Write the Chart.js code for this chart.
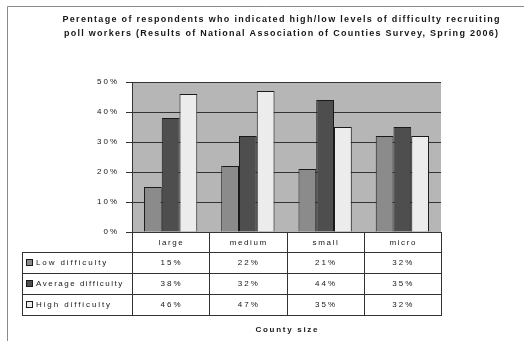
<!DOCTYPE html>
<html>
<head>
<meta charset="utf-8">
<script src="https://cdn.jsdelivr.net/npm/chart.js@4/dist/chart.umd.min.js"></script>
<style>
  html, body { margin: 0; padding: 0; background: #fff; }
  canvas { display: block; }
</style>
</head>
<body>
<canvas id="chart" width="524" height="341"></canvas>
<script>
// Survey results: share of respondents reporting each difficulty level, by county size
const titleLines = [
  'Perentage of respondents who indicated high/low levels of difficulty recruiting',
  'poll workers (Results of National Association of Counties Survey, Spring 2006)'
];
const categories = ['large', 'medium', 'small', 'micro'];
const seriesNames = ['Low difficulty', 'Average difficulty', 'High difficulty'];
const lowDifficulty = [15, 22, 21, 32];
const averageDifficulty = [38, 32, 44, 35];
const highDifficulty = [46, 47, 35, 32];
const yTicks = [0, 10, 20, 30, 40, 50];
const xAxisTitle = 'County size';

const FONT = '"Liberation Sans", Arial, Helvetica, sans-serif';
const TEXT = '#161616';
const LINE = '#333333';
const seriesColors = ['#8b8b8b', '#4e4e4e', '#ececec'];
const seriesData = [lowDifficulty, averageDifficulty, highDifficulty];

// Draw text stretched with letter spacing so it spans a given width, centred on cx
function drawFitted(ctx, text, cx, y, width) {
  ctx.letterSpacing = '0px';
  const w = ctx.measureText(text).width;
  const sp = (width - w) / (text.length - 1);
  ctx.letterSpacing = sp + 'px';
  ctx.textAlign = 'left';
  ctx.fillText(text, cx - width / 2, y);
  ctx.letterSpacing = '0px';
}

// Draw text with fixed letter spacing, aligned on x
function drawSpaced(ctx, text, x, y, sp, align) {
  ctx.letterSpacing = sp + 'px';
  ctx.textAlign = 'left';
  const w = ctx.measureText(text).width - sp;
  let x0 = x;
  if (align === 'center') x0 = x - w / 2;
  else if (align === 'right') x0 = x - w;
  ctx.fillText(text, x0, y);
  ctx.letterSpacing = '0px';
}

const plotBackground = {
  id: 'plotBackground',
  beforeDraw(chart) {
    const { ctx, chartArea: a } = chart;
    ctx.save();
    ctx.fillStyle = '#b6b6b6';
    ctx.fillRect(a.left, a.top, a.right - a.left, a.bottom - a.top);
    ctx.restore();
    ctx.letterSpacing = '2px';
  }
};

const decorations = {
  id: 'decorations',
  afterDraw(chart) {
    const { ctx, chartArea: a } = chart;
    const xs = chart.scales.x;
    ctx.save();
    ctx.letterSpacing = '0px';

    // outer frame
    ctx.strokeStyle = '#8a8a8a';
    ctx.lineWidth = 1;
    ctx.beginPath();
    ctx.moveTo(7.5, 341);
    ctx.lineTo(7.5, 6.5);
    ctx.lineTo(524, 6.5);
    ctx.stroke();

    // title
    ctx.fillStyle = TEXT;
    ctx.textBaseline = 'middle';
    ctx.font = 'bold 9px ' + FONT;
    drawFitted(ctx, titleLines[0], 281, 19.5, 437);
    drawFitted(ctx, titleLines[1], 281, 33.5, 434);

    // data table below the plot
    const edges = [a.left];
    for (let i = 1; i < categories.length; i++) {
      edges.push((xs.getPixelForValue(i - 1) + xs.getPixelForValue(i)) / 2);
    }
    edges.push(a.right);
    const tableLeft = 22;
    const headerBottom = a.bottom + 20;
    const rowH = 21;
    const tableBottom = headerBottom + rowH * seriesNames.length;

    ctx.fillStyle = '#ffffff';
    ctx.fillRect(a.left, a.bottom + 1, a.right - a.left, headerBottom - a.bottom - 1);

    ctx.strokeStyle = LINE;
    ctx.lineWidth = 1;
    ctx.beginPath();
    for (let r = 0; r <= seriesNames.length; r++) {
      const y = Math.round(headerBottom + r * rowH) + 0.5;
      ctx.moveTo(tableLeft, y);
      ctx.lineTo(a.right + 0.5, y);
    }
    ctx.moveTo(tableLeft + 0.5, headerBottom);
    ctx.lineTo(tableLeft + 0.5, tableBottom + 1);
    edges.forEach(x => {
      const px = Math.round(x) + 0.5;
      ctx.moveTo(px, a.bottom);
      ctx.lineTo(px, tableBottom + 1);
    });
    ctx.stroke();

    ctx.fillStyle = TEXT;
    ctx.font = '8px ' + FONT;
    ctx.textBaseline = 'middle';
    categories.forEach((c, i) => {
      drawSpaced(ctx, c, xs.getPixelForValue(i), a.bottom + 10.5, 1.6, 'center');
    });

    seriesNames.forEach((name, r) => {
      const cy = headerBottom + r * rowH + rowH / 2 + 0.5;
      // legend key
      ctx.fillStyle = seriesColors[r];
      ctx.fillRect(26, cy - 4, 7, 7);
      ctx.strokeStyle = '#1a1a1a';
      ctx.strokeRect(26.5, cy - 3.5, 6, 6);
      ctx.fillStyle = TEXT;
      drawSpaced(ctx, name, 36, cy, name.length > 15 ? 1.5 : 1.9, 'left');
      seriesData[r].forEach((v, i) => {
        drawSpaced(ctx, v + '%', xs.getPixelForValue(i), cy, 2, 'center');
      });
    });

    // axis title
    ctx.font = 'bold 8px ' + FONT;
    drawSpaced(ctx, xAxisTitle, (a.left + a.right) / 2, 330, 1.7, 'center');
    ctx.restore();
  }
};

new Chart(document.getElementById('chart'), {
  type: 'bar',
  data: {
    labels: categories,
    datasets: seriesNames.map((name, i) => ({
      label: name,
      data: seriesData[i],
      backgroundColor: seriesColors[i],
      borderColor: '#1a1a1a',
      borderWidth: 1,
      borderSkipped: 'bottom'
    }))
  },
  options: {
    responsive: false,
    animation: false,
    devicePixelRatio: 1,
    layout: { padding: { left: 0, top: 82, right: 83, bottom: 109 } },
    datasets: { bar: { categoryPercentage: 0.69, barPercentage: 1.0 } },
    plugins: {
      legend: { display: false },
      title: { display: false },
      tooltip: { enabled: false }
    },
    scales: {
      x: { display: false },
      y: {
        min: 0,
        max: 50,
        afterFit(scale) { scale.width = 132; },
        afterBuildTicks(scale) { scale.ticks = yTicks.map(v => ({ value: v })); },
        ticks: {
          callback: v => v + '%',
          font: { family: FONT, size: 8 },
          color: TEXT,
          padding: 7
        },
        grid: { color: LINE, lineWidth: 1, tickLength: 6, drawTicks: true },
        border: { display: true, color: LINE }
      }
    }
  },
  plugins: [plotBackground, decorations]
});
</script>
</body>
</html>
